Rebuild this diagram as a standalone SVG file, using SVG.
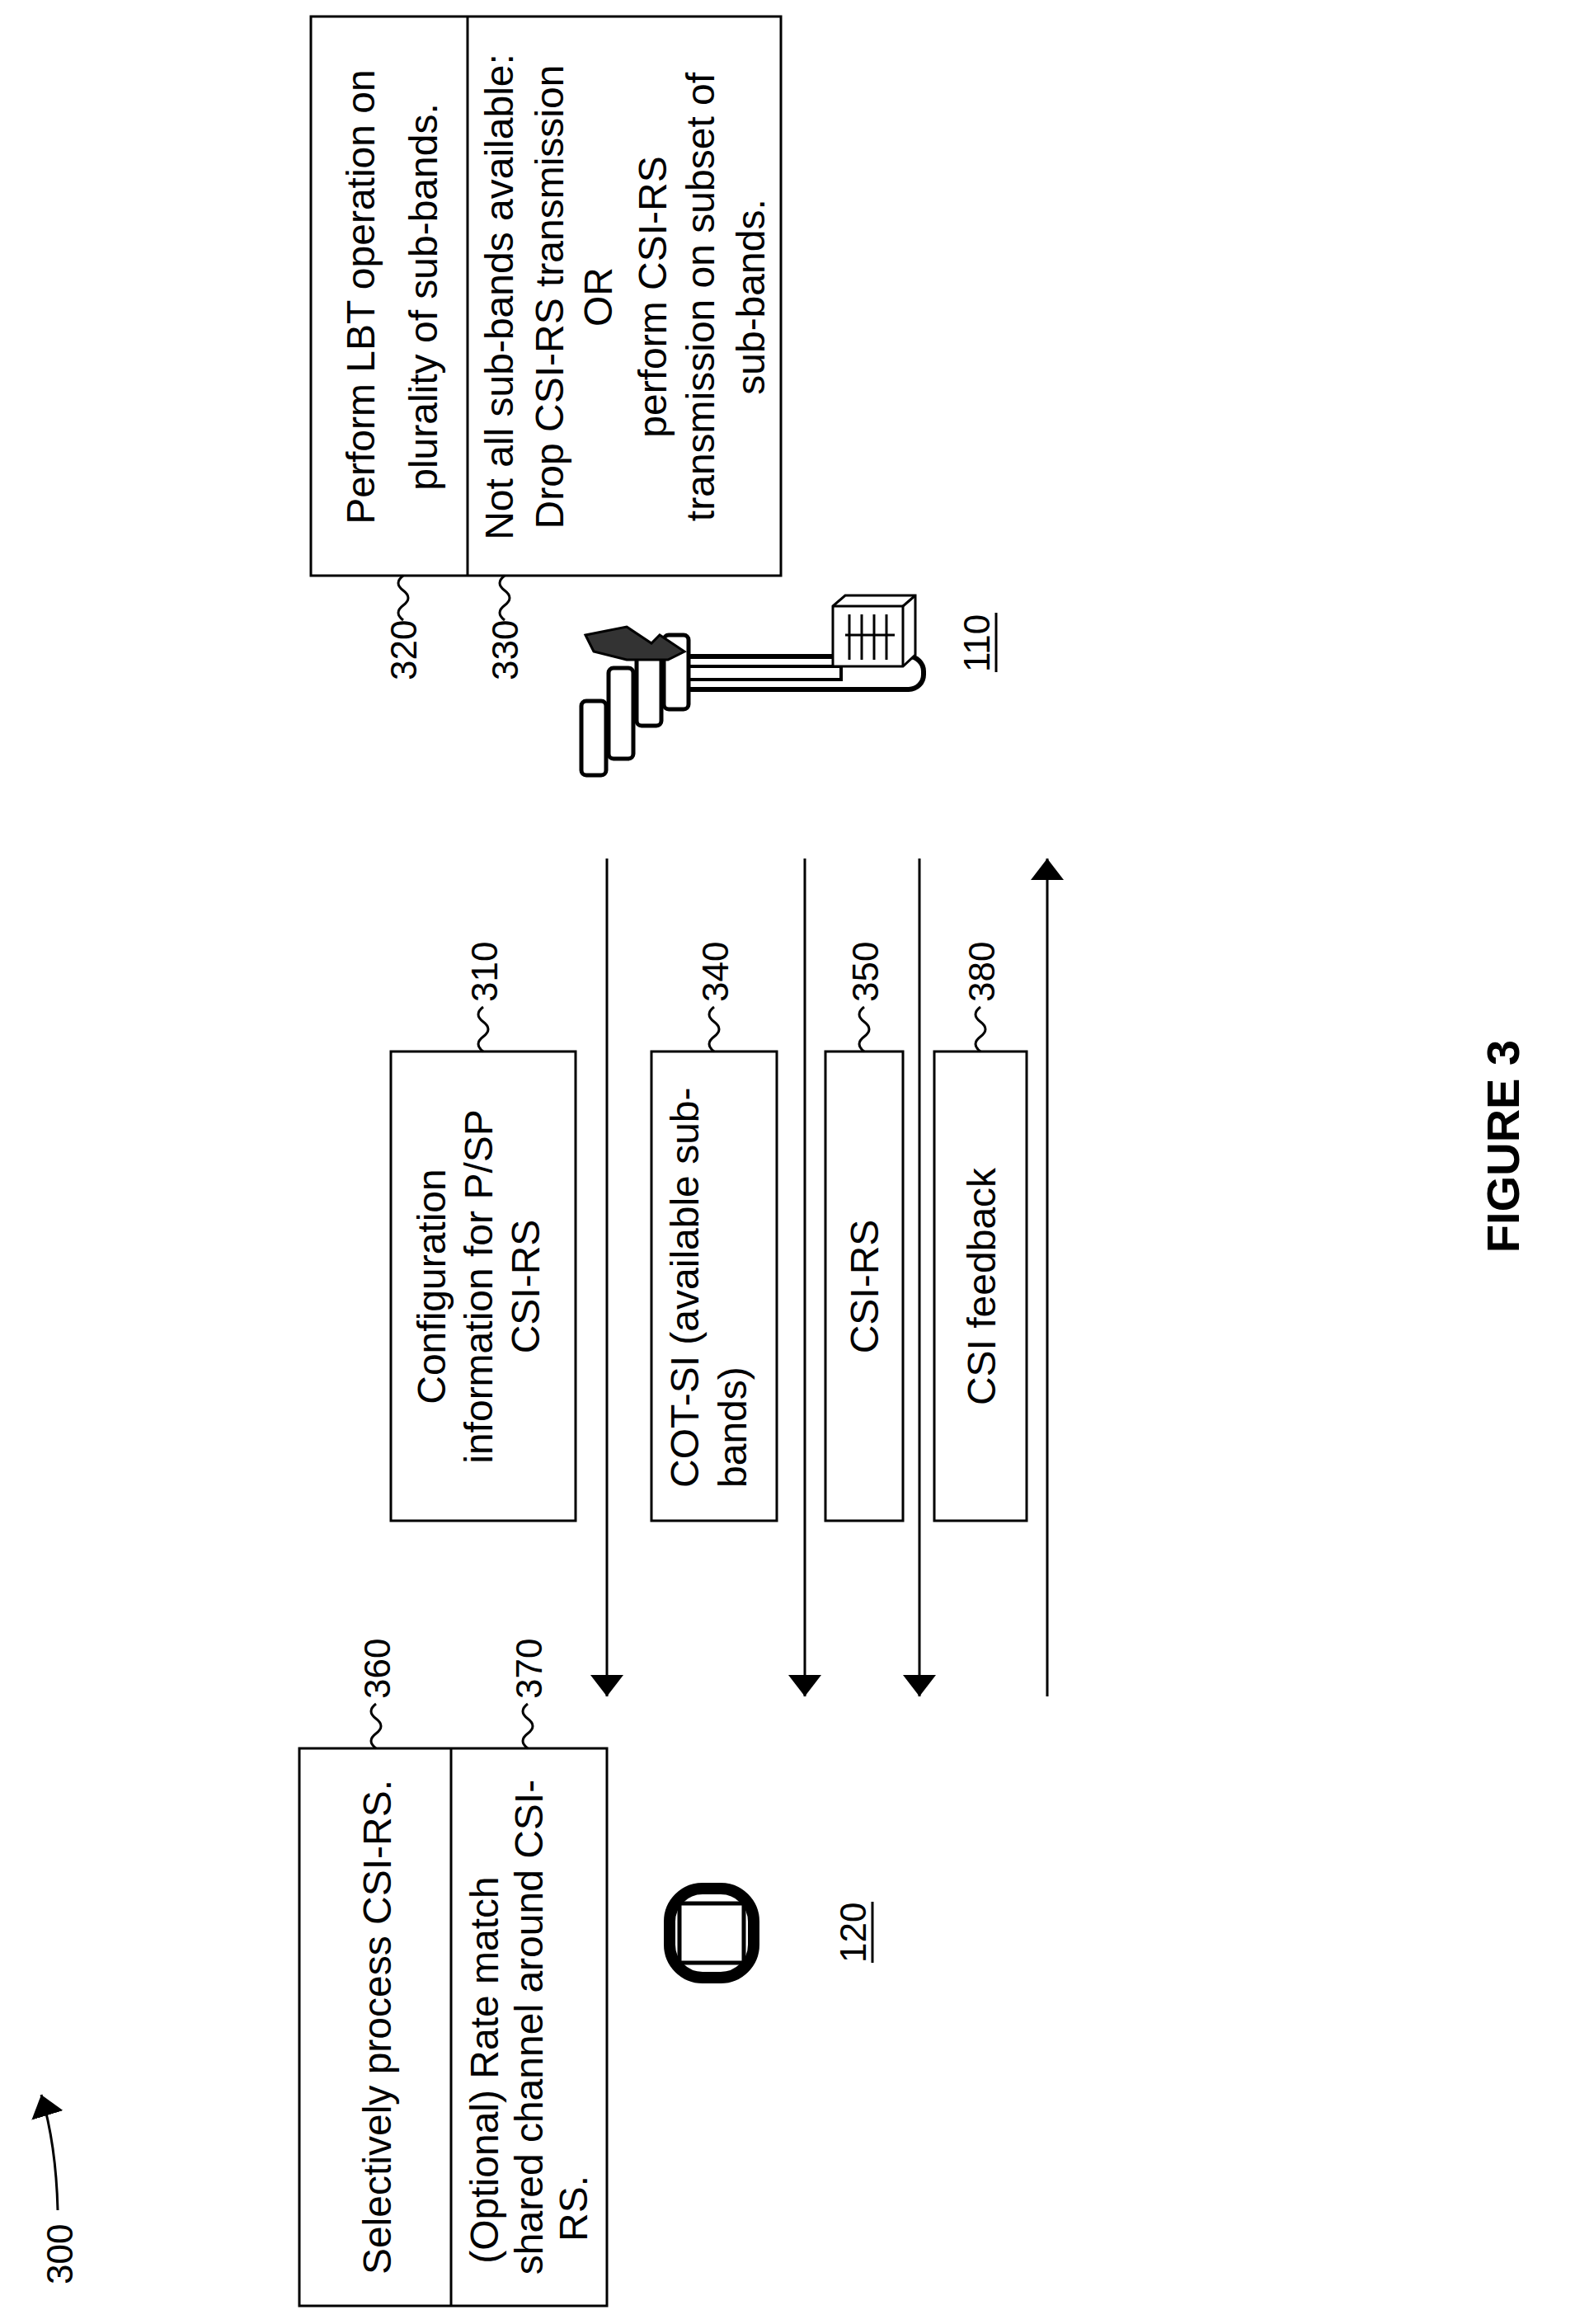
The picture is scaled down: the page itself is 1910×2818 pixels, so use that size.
<svg xmlns="http://www.w3.org/2000/svg" width="1910" height="2818" viewBox="0 0 1910 2818">
<style>
.b{fill:#fff;stroke:#000;stroke-width:3}
.l{fill:none;stroke:#000;stroke-width:3}
.t{font-family:"Liberation Sans",Arial,sans-serif;font-size:48px;fill:#000}
.m{text-anchor:middle}
.n{font-family:"Liberation Sans",Arial,sans-serif;font-size:44px;fill:#000}
</style>
<defs>
<marker id="a2" viewBox="0 0 10 10" refX="10" refY="5" markerWidth="26" markerHeight="40" orient="auto" markerUnits="userSpaceOnUse" preserveAspectRatio="none"><path d="M0,0 L10,5 L0,10 z" fill="#000"/></marker>
</defs>

<g id="label300">
<text class="n" transform="translate(88,2770) rotate(-90)">300</text>
<path class="l" d="M70 2680 Q68 2600 50 2540" marker-end="url(#a2)"/>
</g>

<g id="n320_330">
<rect class="b" x="377" y="20" width="570" height="678"/>
<line class="l" x1="567" y1="20" x2="567" y2="698"/>
<text class="t m" transform="translate(454,360) rotate(-90)"><tspan x="0" y="0">Perform LBT operation on</tspan><tspan x="0" y="76">plurality of sub-bands.</tspan></text>
<text class="t m" transform="translate(622,360) rotate(-90)"><tspan x="0" y="0">Not all sub-bands available:</tspan><tspan x="0" y="61">Drop CSI-RS transmission</tspan><tspan x="0" y="120">OR</tspan><tspan x="0" y="186">perform CSI-RS</tspan><tspan x="0" y="244">transmission on subset of</tspan><tspan x="0" y="305">sub-bands.</tspan></text>
<path class="l" d="M489 698 q-12 9 0 18 t0 18 t0 18"/>
<text class="n" transform="translate(505,825) rotate(-90)">320</text>
<path class="l" d="M612 698 q-12 9 0 18 t0 18 t0 18"/>
<text class="n" transform="translate(628,825) rotate(-90)">330</text>
</g>

<g id="n110">
<rect x="820" y="796" width="300" height="40" rx="18" fill="#fff" stroke="#000" stroke-width="6"/>
<rect x="820" y="808" width="200" height="16" fill="none" stroke="#000" stroke-width="4"/>
<rect x="705" y="850" width="30" height="90" rx="6" fill="#fff" stroke="#000" stroke-width="5"/>
<rect x="738" y="810" width="30" height="110" rx="6" fill="#fff" stroke="#000" stroke-width="5"/>
<rect x="772" y="790" width="30" height="90" rx="6" fill="#fff" stroke="#000" stroke-width="5"/>
<rect x="805" y="770" width="30" height="90" rx="6" fill="#fff" stroke="#000" stroke-width="5"/>
<path d="M710 770 L760 760 L790 780 L800 770 L830 790 L810 800 L760 800 L720 790 z" fill="#333" stroke="#000" stroke-width="3"/>
<path class="b" d="M1010 735 L1025 722 L1110 722 L1110 794 L1095 808 L1010 808 z"/>
<line class="l" x1="1010" y1="735" x2="1095" y2="735"/>
<line class="l" x1="1095" y1="735" x2="1095" y2="808"/>
<line class="l" x1="1095" y1="735" x2="1110" y2="722"/>
<g stroke="#000" stroke-width="3">
<line x1="1030" y1="745" x2="1030" y2="800"/><line x1="1045" y1="745" x2="1045" y2="800"/><line x1="1060" y1="745" x2="1060" y2="800"/><line x1="1075" y1="745" x2="1075" y2="800"/>
<line x1="1025" y1="770" x2="1085" y2="770"/>
</g>
<text class="n" transform="translate(1200,815) rotate(-90)">110</text>
<line class="l" x1="1208" y1="743" x2="1208" y2="815"/>
</g>

<g id="n310">
<rect class="b" x="474" y="1275" width="224" height="569"/>
<text class="t m" transform="translate(540,1560) rotate(-90)"><tspan x="0" y="0">Configuration</tspan><tspan x="0" y="57">information for P/SP</tspan><tspan x="0" y="114">CSI-RS</tspan></text>
<path class="l" d="M586 1275 q-12 -9 0 -18 t0 -18 t0 -18"/>
<text class="n" transform="translate(603,1215) rotate(-90)">310</text>
</g>

<g id="n340">
<rect class="b" x="790" y="1275" width="152" height="569"/>
<text class="t" transform="translate(847,1804) rotate(-90)"><tspan x="0" y="0">COT-SI (available sub-</tspan><tspan x="0" y="58">bands)</tspan></text>
<path class="l" d="M866 1275 q-12 -9 0 -18 t0 -18 t0 -18"/>
<text class="n" transform="translate(883,1215) rotate(-90)">340</text>
</g>

<g id="n350">
<rect class="b" x="1001" y="1275" width="94" height="569"/>
<text class="t m" transform="translate(1065,1560) rotate(-90)">CSI-RS</text>
<path class="l" d="M1048 1275 q-12 -9 0 -18 t0 -18 t0 -18"/>
<text class="n" transform="translate(1065,1215) rotate(-90)">350</text>
</g>

<g id="n380">
<rect class="b" x="1133" y="1275" width="112" height="569"/>
<text class="t m" transform="translate(1207,1560) rotate(-90)">CSI feedback</text>
<path class="l" d="M1189 1275 q-12 -9 0 -18 t0 -18 t0 -18"/>
<text class="n" transform="translate(1206,1215) rotate(-90)">380</text>
</g>

<g id="connectors">
<line class="l" x1="736" y1="1041" x2="736" y2="2057" marker-end="url(#a2)"/>
<line class="l" x1="976" y1="1041" x2="976" y2="2057" marker-end="url(#a2)"/>
<line class="l" x1="1115" y1="1041" x2="1115" y2="2057" marker-end="url(#a2)"/>
<line class="l" x1="1270" y1="2057" x2="1270" y2="1041" marker-end="url(#a2)"/>
</g>

<g id="n360_370">
<rect class="b" x="363" y="2120" width="373" height="676"/>
<line class="l" x1="547" y1="2120" x2="547" y2="2796"/>
<text class="t m" transform="translate(474,2458) rotate(-90)">Selectively process CSI-RS.</text>
<text class="t m" transform="translate(604,2510) rotate(-90)">(Optional) Rate match</text>
<text class="t m" transform="translate(658,2458) rotate(-90)">shared channel around CSI-</text>
<text class="t m" transform="translate(712,2678) rotate(-90)">RS.</text>
<path class="l" d="M456 2120 q-12 -9 0 -18 t0 -18 t0 -18"/>
<text class="n" transform="translate(473,2060) rotate(-90)">360</text>
<path class="l" d="M640 2120 q-12 -9 0 -18 t0 -18 t0 -18"/>
<text class="n" transform="translate(657,2060) rotate(-90)">370</text>
</g>

<g id="n120">
<rect x="812" y="2290" width="102" height="108" rx="40" fill="#fff" stroke="#000" stroke-width="14"/>
<rect x="824" y="2308" width="78" height="72" fill="#fff" stroke="#000" stroke-width="5"/>
<text class="n" transform="translate(1050,2380) rotate(-90)">120</text>
<line class="l" x1="1058" y1="2306" x2="1058" y2="2380"/>
</g>

<text transform="translate(1842,1390) rotate(-90)" style="font-family:'Liberation Sans',Arial,sans-serif;font-size:56px;font-weight:bold;text-anchor:middle">FIGURE 3</text>
</svg>
